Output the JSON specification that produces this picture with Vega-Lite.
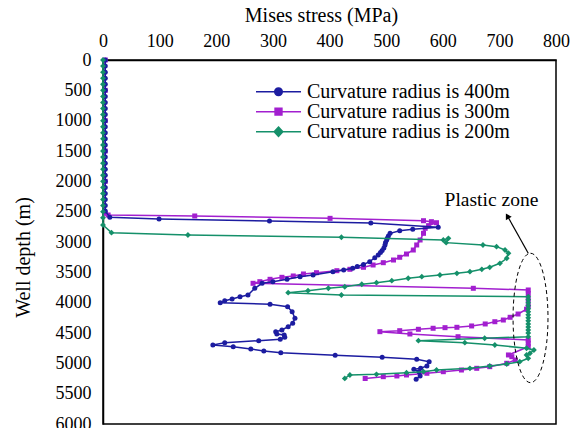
{
  "$schema": "https://vega.github.io/schema/vega-lite/v6.json",
  "width": 453,
  "height": 364,
  "autosize": {"type": "none"},
  "padding": {"left": 103, "top": 60, "right": 20, "bottom": 4},
  "background": "white",
  "config": {
    "font": "Liberation Serif",
    "view": {"stroke": "black", "strokeWidth": 1.5},
    "text": {"font": "Liberation Serif"},
    "legend": {"labelFont": "Liberation Serif", "titleFont": "Liberation Serif"},
    "axis": {
      "labelFont": "Liberation Serif", "titleFont": "Liberation Serif",
      "labelFontSize": 18, "titleFontSize": 20, "titleFontWeight": "normal",
      "labelColor": "black", "titleColor": "black", "domainColor": "black",
      "tickColor": "black", "domainWidth": 1.5, "tickWidth": 1.2, "grid": false
    }
  },
  "data": {"values": [
    {"s":"400m","v":4,"d":0},{"s":"400m","v":4,"d":100},{"s":"400m","v":4,"d":200},{"s":"400m","v":4,"d":300},{"s":"400m","v":4,"d":400},{"s":"400m","v":4,"d":500},{"s":"400m","v":4,"d":600},{"s":"400m","v":4,"d":700},{"s":"400m","v":4,"d":800},{"s":"400m","v":4,"d":900},{"s":"400m","v":4,"d":1000},{"s":"400m","v":4,"d":1100},{"s":"400m","v":4,"d":1200},{"s":"400m","v":4,"d":1300},{"s":"400m","v":4,"d":1400},{"s":"400m","v":4,"d":1500},{"s":"400m","v":4,"d":1600},{"s":"400m","v":4,"d":1700},{"s":"400m","v":4,"d":1800},{"s":"400m","v":4,"d":1900},{"s":"400m","v":4,"d":2000},{"s":"400m","v":4,"d":2100},{"s":"400m","v":4,"d":2200},{"s":"400m","v":4,"d":2300},{"s":"400m","v":4,"d":2400},{"s":"400m","v":4,"d":2489},
    {"s":"400m","v":12,"d":2593},{"s":"400m","v":99,"d":2621},{"s":"400m","v":294,"d":2654},{"s":"400m","v":473,"d":2687},{"s":"400m","v":592,"d":2757},{"s":"400m","v":547,"d":2790},{"s":"400m","v":524,"d":2814},{"s":"400m","v":507,"d":2857},{"s":"400m","v":504,"d":2900},{"s":"400m","v":502,"d":2940},{"s":"400m","v":501,"d":2967},{"s":"400m","v":499,"d":3010},{"s":"400m","v":498,"d":3050},{"s":"400m","v":496,"d":3099},{"s":"400m","v":493,"d":3140},{"s":"400m","v":490,"d":3175},{"s":"400m","v":486,"d":3214},{"s":"400m","v":480,"d":3260},{"s":"400m","v":471,"d":3325},{"s":"400m","v":460,"d":3370},{"s":"400m","v":449,"d":3405},{"s":"400m","v":441,"d":3433},{"s":"400m","v":425,"d":3460},{"s":"400m","v":406,"d":3489},{"s":"400m","v":371,"d":3544},{"s":"400m","v":348,"d":3572},{"s":"400m","v":325,"d":3615},{"s":"400m","v":300,"d":3654},{"s":"400m","v":281,"d":3681},{"s":"400m","v":268,"d":3763},{"s":"400m","v":256,"d":3873},{"s":"400m","v":242,"d":3901},{"s":"400m","v":228,"d":3939},{"s":"400m","v":215,"d":3967},{"s":"400m","v":207,"d":4000},{"s":"400m","v":295,"d":4027},{"s":"400m","v":326,"d":4066},{"s":"400m","v":334,"d":4149},{"s":"400m","v":339,"d":4257},{"s":"400m","v":335,"d":4340},{"s":"400m","v":327,"d":4396},{"s":"400m","v":316,"d":4450},{"s":"400m","v":305,"d":4478},{"s":"400m","v":307,"d":4516},{"s":"400m","v":320,"d":4533},{"s":"400m","v":321,"d":4571},{"s":"400m","v":313,"d":4604},{"s":"400m","v":275,"d":4627},{"s":"400m","v":215,"d":4660},{"s":"400m","v":194,"d":4698},{"s":"400m","v":230,"d":4725},{"s":"400m","v":261,"d":4763},{"s":"400m","v":284,"d":4796},{"s":"400m","v":314,"d":4825},{"s":"400m","v":410,"d":4867},{"s":"400m","v":493,"d":4900},{"s":"400m","v":554,"d":4933},{"s":"400m","v":576,"d":4973},{"s":"400m","v":572,"d":5044},{"s":"400m","v":561,"d":5082},{"s":"400m","v":549,"d":5098},{"s":"400m","v":558,"d":5138},{"s":"400m","v":560,"d":5208},{"s":"400m","v":553,"d":5263},
    {"s":"300m","v":4,"d":0},{"s":"300m","v":4,"d":500},{"s":"300m","v":4,"d":1000},{"s":"300m","v":4,"d":1500},{"s":"300m","v":4,"d":2000},{"s":"300m","v":4,"d":2527},
    {"s":"300m","v":9,"d":2555},{"s":"300m","v":162,"d":2571},{"s":"300m","v":401,"d":2610},{"s":"300m","v":566,"d":2649},{"s":"300m","v":580,"d":2665},{"s":"300m","v":589,"d":2682},{"s":"300m","v":575,"d":2730},{"s":"300m","v":569,"d":2774},{"s":"300m","v":566,"d":2857},{"s":"300m","v":560,"d":2967},{"s":"300m","v":554,"d":3049},{"s":"300m","v":548,"d":3132},{"s":"300m","v":536,"d":3198},{"s":"300m","v":524,"d":3252},{"s":"300m","v":513,"d":3297},{"s":"300m","v":495,"d":3341},{"s":"300m","v":477,"d":3379},{"s":"300m","v":460,"d":3417},{"s":"300m","v":436,"d":3450},{"s":"300m","v":413,"d":3473},{"s":"300m","v":377,"d":3506},{"s":"300m","v":354,"d":3527},{"s":"300m","v":336,"d":3560},{"s":"300m","v":316,"d":3582},{"s":"300m","v":295,"d":3615},{"s":"300m","v":277,"d":3654},{"s":"300m","v":265,"d":3681},{"s":"300m","v":654,"d":3763},{"s":"300m","v":751,"d":3791},{"s":"300m","v":751,"d":3850},{"s":"300m","v":751,"d":3950},{"s":"300m","v":751,"d":4050},{"s":"300m","v":748,"d":4108},{"s":"300m","v":733,"d":4187},{"s":"300m","v":719,"d":4241},{"s":"300m","v":707,"d":4286},{"s":"300m","v":692,"d":4314},{"s":"300m","v":675,"d":4351},{"s":"300m","v":651,"d":4384},{"s":"300m","v":625,"d":4406},{"s":"300m","v":604,"d":4412},{"s":"300m","v":583,"d":4422},{"s":"300m","v":557,"d":4439},{"s":"300m","v":524,"d":4462},{"s":"300m","v":489,"d":4478},{"s":"300m","v":542,"d":4516},{"s":"300m","v":627,"d":4561},{"s":"300m","v":751,"d":4615},{"s":"300m","v":751,"d":4670},{"s":"300m","v":751,"d":4726},{"s":"300m","v":716,"d":4862},{"s":"300m","v":722,"d":4890},{"s":"300m","v":728,"d":4945},{"s":"300m","v":713,"d":4999},{"s":"300m","v":683,"d":5055},{"s":"300m","v":660,"d":5082},{"s":"300m","v":633,"d":5110},{"s":"300m","v":601,"d":5138},{"s":"300m","v":572,"d":5164},{"s":"300m","v":536,"d":5192},{"s":"300m","v":519,"d":5208},{"s":"300m","v":495,"d":5220},{"s":"300m","v":463,"d":5250},
    {"s":"200m","v":0,"d":0},{"s":"200m","v":0,"d":100},{"s":"200m","v":0,"d":200},{"s":"200m","v":0,"d":300},{"s":"200m","v":0,"d":400},{"s":"200m","v":0,"d":500},{"s":"200m","v":0,"d":600},{"s":"200m","v":0,"d":700},{"s":"200m","v":0,"d":800},{"s":"200m","v":0,"d":900},{"s":"200m","v":0,"d":1000},{"s":"200m","v":0,"d":1100},{"s":"200m","v":0,"d":1200},{"s":"200m","v":0,"d":1300},{"s":"200m","v":0,"d":1400},{"s":"200m","v":0,"d":1500},{"s":"200m","v":0,"d":1600},{"s":"200m","v":0,"d":1700},{"s":"200m","v":0,"d":1800},{"s":"200m","v":0,"d":1900},{"s":"200m","v":0,"d":2000},{"s":"200m","v":0,"d":2100},{"s":"200m","v":0,"d":2200},{"s":"200m","v":0,"d":2300},{"s":"200m","v":0,"d":2400},{"s":"200m","v":0,"d":2500},{"s":"200m","v":0,"d":2600},{"s":"200m","v":0,"d":2720},
    {"s":"200m","v":15,"d":2846},{"s":"200m","v":150,"d":2885},{"s":"200m","v":421,"d":2922},{"s":"200m","v":601,"d":2967},{"s":"200m","v":610,"d":2939},{"s":"200m","v":606,"d":3011},{"s":"200m","v":671,"d":3049},{"s":"200m","v":695,"d":3077},{"s":"200m","v":710,"d":3132},{"s":"200m","v":716,"d":3186},{"s":"200m","v":713,"d":3268},{"s":"200m","v":701,"d":3351},{"s":"200m","v":683,"d":3417},{"s":"200m","v":669,"d":3450},{"s":"200m","v":648,"d":3489},{"s":"200m","v":625,"d":3516},{"s":"200m","v":595,"d":3544},{"s":"200m","v":563,"d":3572},{"s":"200m","v":539,"d":3598},{"s":"200m","v":510,"d":3638},{"s":"200m","v":483,"d":3671},{"s":"200m","v":457,"d":3697},{"s":"200m","v":427,"d":3737},{"s":"200m","v":398,"d":3763},{"s":"200m","v":362,"d":3802},{"s":"200m","v":327,"d":3835},{"s":"200m","v":421,"d":3873},{"s":"200m","v":751,"d":3901},
    {"s":"200m","v":751,"d":3950},{"s":"200m","v":751,"d":4000},{"s":"200m","v":751,"d":4050},{"s":"200m","v":751,"d":4100},{"s":"200m","v":751,"d":4150},{"s":"200m","v":751,"d":4200},{"s":"200m","v":751,"d":4250},{"s":"200m","v":751,"d":4300},{"s":"200m","v":751,"d":4350},{"s":"200m","v":751,"d":4400},{"s":"200m","v":751,"d":4450},{"s":"200m","v":751,"d":4500},{"s":"200m","v":751,"d":4561},
    {"s":"200m","v":674,"d":4587},{"s":"200m","v":557,"d":4627},{"s":"200m","v":639,"d":4660},{"s":"200m","v":692,"d":4698},{"s":"200m","v":748,"d":4752},{"s":"200m","v":761,"d":4780},{"s":"200m","v":754,"d":4834},{"s":"200m","v":748,"d":4862},{"s":"200m","v":751,"d":4917},{"s":"200m","v":736,"d":4973},{"s":"200m","v":713,"d":5011},{"s":"200m","v":683,"d":5044},{"s":"200m","v":648,"d":5082},{"s":"200m","v":589,"d":5110},{"s":"200m","v":566,"d":5138},{"s":"200m","v":536,"d":5154},{"s":"200m","v":483,"d":5181},{"s":"200m","v":436,"d":5192},{"s":"200m","v":427,"d":5248}
  ]},
  "encoding": {
    "x": {"field": "v", "type": "quantitative",
      "scale": {"domain": [0, 800], "nice": false, "zero": false},
      "axis": {"orient": "top", "title": "Mises stress (MPa)",
        "labelFont": "Liberation Serif", "titleFont": "Liberation Serif",
        "values": [0,50,100,150,200,250,300,350,400,450,500,550,600,650,700,750,800],
        "format": "d", "labelExpr": "datum.value % 100 === 0 ? datum.label : ''",
        "labelOverlap": false, "labelFlush": false, "labelBound": false,
        "tickSize": 0, "labelPadding": 10, "titlePadding": 7, "titleX": 218,
        "encode": {"ticks": {"update": {"y2": {"signal": "datum.value % 100 === 0 ? 7 : 4"}}}}}},
    "y": {"field": "d", "type": "quantitative",
      "scale": {"domain": [0, 6000], "reverse": true, "nice": false, "zero": false},
      "axis": {"title": "Well depth (m)",
        "labelFont": "Liberation Serif", "titleFont": "Liberation Serif",
        "values": [0,250,500,750,1000,1250,1500,1750,2000,2250,2500,2750,3000,3250,3500,3750,4000,4250,4500,4750,5000,5250,5500,5750,6000],
        "format": "d", "labelExpr": "datum.value % 500 === 0 ? datum.label : ''",
        "labelOverlap": false, "labelFlush": false, "labelBound": false,
        "tickSize": 0, "labelPadding": 12, "titlePadding": 22, "titleY": 197,
        "encode": {"ticks": {"update": {"x2": {"signal": "datum.value % 500 === 0 ? 7 : 4"}}}}}},
    "order": {"value": null},
    "color": {"field": "s", "type": "nominal",
      "scale": {"domain": ["400m", "300m", "200m"], "range": ["#1c1ca0", "#a21fcf", "#15906a"]},
      "legend": {"orient": "none", "legendX": 165.5, "legendY": 21.7, "title": null, "padding": 0,
        "symbolSize": 324, "labelOffset": 18.5, "labelFontSize": 20, "labelFont": "Liberation Serif",
        "labelColor": "black", "rowPadding": -2, "symbolStrokeWidth": 1.5, "labelLimit": 0,
        "labelExpr": "'Curvature radius is ' + datum.label",
        "encode": {
          "symbols": {"update": {
          "shape": {"signal": "datum.value === '400m' ? 'M-2.5,0L2.5,0M-0.42,0A0.42,0.42 0 1,0 0.42,0A0.42,0.42 0 1,0 -0.42,0Z' : datum.value === '300m' ? 'M-2.5,0L2.5,0M-0.38,-0.38L0.38,-0.38L0.38,0.38L-0.38,0.38Z' : 'M-2.5,0L2.5,0M0,-0.52L0.48,0L0,0.52L-0.48,0Z'"},
          "fill": {"signal": "scale('color', datum.value)"},
          "stroke": {"signal": "scale('color', datum.value)"},
          "opacity": {"value": 1}, "fillOpacity": {"value": 1}, "strokeOpacity": {"value": 1}}}}}}
  },
  "layer": [
    {"transform": [{"filter": "datum.s === '300m'"}],
     "mark": {"type": "line", "strokeWidth": 1.5, "point": {"shape": "square", "size": 25, "filled": true, "opacity": 1}}},
    {"transform": [{"filter": "datum.s === '400m'"}],
     "mark": {"type": "line", "strokeWidth": 1.5, "point": {"shape": "circle", "size": 25, "filled": true, "opacity": 1}}},
    {"transform": [{"filter": "datum.s === '200m'"}],
     "mark": {"type": "line", "strokeWidth": 1.5, "point": {"shape": "diamond", "size": 34, "filled": true, "opacity": 1}}},
    {"data": {"values": [{"v": 755, "d": 4252}]},
     "mark": {"type": "point", "shape": "M0,-1A0.27,1 0 1,1 0,1A0.27,1 0 1,1 0,-1Z", "size": 16744, "filled": false, "stroke": "black", "strokeWidth": 1, "strokeDash": [4, 3], "opacity": 1},
     "encoding": {"color": {"value": "black"}}},
    {"data": {"values": [{"v": 751, "d": 3186, "v2": 716, "d2": 2600}]},
     "mark": {"type": "rule", "strokeWidth": 1.2},
     "encoding": {"x2": {"field": "v2"}, "y2": {"field": "d2"}, "color": {"value": "black"}}},
    {"data": {"values": [{"v": 714, "d": 2571}]},
     "mark": {"type": "point", "shape": "triangle-up", "size": 45, "filled": true, "angle": -30, "opacity": 1},
     "encoding": {"color": {"value": "black"}}},
    {"data": {"values": [{"v": 686, "d": 2308, "t": "Plastic zone"}]},
     "mark": {"type": "text", "fontSize": 19.5, "font": "Liberation Serif", "align": "center", "baseline": "middle"},
     "encoding": {"text": {"field": "t"}, "color": {"value": "black"}}}
  ]
}
